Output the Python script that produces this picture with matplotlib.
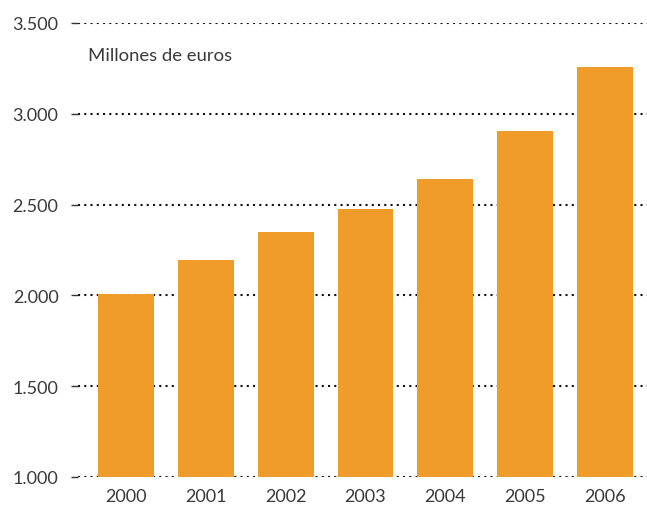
import matplotlib.pyplot as plt

# data
years = ["2000", "2001", "2002", "2003", "2004", "2005", "2006"]
values = [2010, 2193, 2347, 2478, 2642, 2906, 3259]
yticks = [1000, 1500, 2000, 2500, 3000, 3500]
ytick_labels = ["1.000", "1.500", "2.000", "2.500", "3.000", "3.500"]

plt.rcParams['font.family'] = ['Lato', 'DejaVu Sans']

fig = plt.figure(figsize=(6.47, 5.06), dpi=100)
ax = fig.add_axes([78 / 647, 1 - 478 / 506, 1 - 78 / 647, (478 - 24) / 506])

x = range(len(years))
ax.bar(x, [v - 1000 for v in values], bottom=1000, width=0.7,
       color="#EF9C2A", zorder=3)

ax.set_ylim(1000, 3500)
ax.set_xlim(-0.6, 6.525)
ax.set_yticks(yticks)
ax.set_yticklabels(ytick_labels)
ax.set_xticks(list(x))
ax.set_xticklabels(years)

# dotted gridlines
ax.grid(axis="y", color="#111111", linestyle=(0, (1, 2.0)), linewidth=1.5, zorder=1)
ax.grid(axis="x", visible=False)

for s in ax.spines.values():
    s.set_visible(False)

ax.tick_params(axis="y", length=5, width=1, color="#333333", pad=9,
               labelsize=13, labelcolor="#3a3a3a")
ax.tick_params(axis="x", length=0, pad=8, labelsize=13, labelcolor="#3a3a3a")

ax.text(0.017, 0.93, "Millones de euros", transform=ax.transAxes,
        fontsize=13.3, color="#3a3a3a", ha="left", va="center")

fig.savefig("out.png", dpi=100)
